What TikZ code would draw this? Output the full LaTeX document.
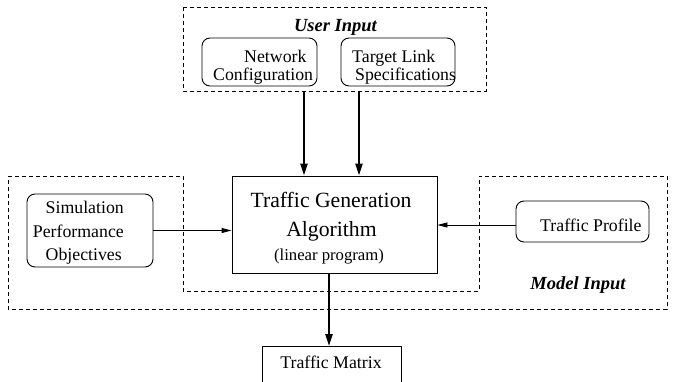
\documentclass[tikz,border=0pt]{standalone}
\usepackage{fontspec}
\setmainfont{Liberation Serif}
\usetikzlibrary{arrows.meta}
\begin{document}
\begin{tikzpicture}[x=1pt,y=-1pt,
  grp/.style={draw, dash pattern=on 4pt off 3pt, line width=0.9pt},
  inbox/.style={draw, rounded corners=8pt, line width=0.9pt, inner sep=0pt},
  sqbox/.style={draw, line width=0.9pt, inner sep=0pt},
  lbl/.style={inner sep=0pt, font=\fontsize{17.8}{20}\selectfont},
  big/.style={inner sep=0pt, font=\fontsize{21.7}{24}\selectfont},
  sml/.style={inner sep=0pt, font=\fontsize{16.7}{19}\selectfont},
  ttl/.style={inner sep=0pt, font=\fontsize{18.5}{20}\selectfont\bfseries\itshape},
  feed/.style={line width=2.2pt, -{Triangle[length=12pt,width=7pt]}},
  side/.style={line width=0.9pt, -{Triangle[length=10pt,width=5pt]}}]
\useasboundingbox (0,0) rectangle (673,381);
\clip (0,0) rectangle (673,381);

% group outlines
\draw[grp] (183,7) rectangle (486,91);
\draw[grp] (8,176) -- (183,176) -- (183,291) -- (479,291) -- (479,176)
  -- (667,176) -- (667,309) -- (8,309) -- cycle;
\node[ttl, anchor=base] (uin) at (335.5,31) {User Input};
\node[ttl, anchor=base] (min) at (578,289) {Model Input};

% boxes
\node[inbox, minimum width=115pt, minimum height=48pt] (net) at (259.5,62) {};
\node[inbox, minimum width=114pt, minimum height=48pt] (tls) at (398,62) {};
\node[sqbox, minimum width=205pt, minimum height=97pt] (alg) at (334.5,224.5) {};
\node[inbox, minimum width=126pt, minimum height=73pt] (sim) at (90,230.5) {};
\node[inbox, minimum width=133pt, minimum height=41pt] (prof) at (582.5,221.5) {};
\node[sqbox, minimum width=139pt, minimum height=60pt, anchor=north] (tm) at (331.5,346) {};

% box texts
\node[lbl, anchor=base west] (net1) at (244,62.5) {Network};
\node[lbl, anchor=base west] (net2) at (213,80.5) {Configuration};
\node[lbl, anchor=base west] (tls1) at (352,62.5) {Target Link};
\node[lbl, anchor=base west] (tls2) at (355,80.5) {Specifications};
\node[big, anchor=base] (alg1) at (331,207) {Traffic Generation};
\node[big, anchor=base] (alg2) at (331.5,236.5) {Algorithm};
\node[sml, anchor=base] (alg3) at (329,260) {(linear program)};
\node[lbl, anchor=base east] (sim1) at (124,213) {Simulation};
\node[lbl, anchor=base east] (sim2) at (124,237) {Performance};
\node[lbl, anchor=base east] (sim3) at (122,260) {Objectives};
\node[lbl, anchor=base west] (prof1) at (540,231) {Traffic Profile};
\node[lbl, anchor=base] (tm1) at (331,368.5) {Traffic Matrix};

% connectors
\coordinate (u1) at (304,92);
\coordinate (u2) at (359,92);
\coordinate (d1) at (329,0);
\coordinate (p1) at (0,225);
\draw[feed] (u1) -- (u1 |- alg.north);
\draw[feed] (u2) -- (u2 |- alg.north);
\draw[feed] (d1 |- alg.south) -- (d1 |- tm.north);
\draw[side] (sim.east) -- (sim.east -| alg.west);
\draw[side] (p1 -| prof.west) -- (p1 -| alg.east);
\end{tikzpicture}
\end{document}
